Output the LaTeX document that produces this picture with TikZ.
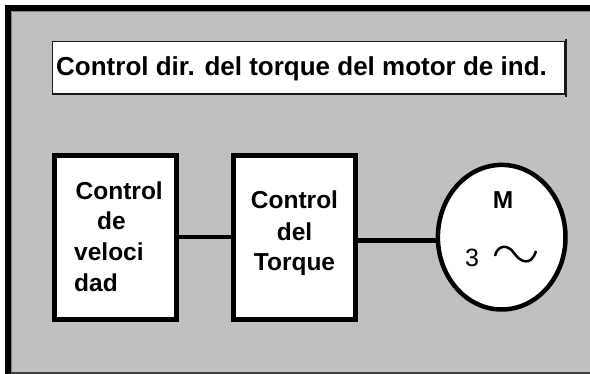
\documentclass[tikz,border=0pt]{standalone}
\usepackage{fontspec}
\setmainfont{Liberation Sans}
\usetikzlibrary{shapes.geometric}
\definecolor{winbg}{HTML}{C0C0C0}
\definecolor{edgegray}{HTML}{404040}
\definecolor{bevel}{HTML}{808080}
\definecolor{titleedge}{HTML}{1A1A1A}
\begin{document}
\begin{tikzpicture}[x=1pt,y=-1pt,
  blk/.style={draw=black,line width=5pt,fill=white,rectangle,inner sep=0pt,minimum width=122.6pt,minimum height=164pt},
  lbl/.style={font=\fontsize{24.5}{29}\selectfont\bfseries,inner sep=0pt,anchor=base west},
  clbl/.style={font=\fontsize{24.5}{29}\selectfont\bfseries,inner sep=0pt,anchor=base},
  wire/.style={line width=4.5pt}]
\useasboundingbox (0,0) rectangle (590,374);
\fill[white] (0,0) rectangle (590,374);
\fill[winbg] (5,5) rectangle (590,374);
\fill[black] (5,5) rectangle (590,11);
\fill[black] (5,5) rectangle (11,374);
\fill[bevel] (11,11) rectangle (590,12);
\fill[bevel] (11,11) rectangle (12,372);
\fill[edgegray] (11,372) rectangle (590,374);
% title
\node[draw=titleedge,line width=1.6pt,fill=white,inner sep=0pt,minimum width=512.7pt,minimum height=52.6pt] (title) at (308.65,68) {};
\draw[titleedge,line width=1.6pt] ([yshift=2pt]title.north east) -- ([yshift=-2pt]title.south east);
\node[anchor=base west,inner sep=0pt,font=\fontsize{26}{30}\selectfont\bfseries] (ttext) at (56,75.7) {Control dir. del torque del motor de ind.};
% blocks
\node[blk] (b1) at (115.5,237.2) {};
\node[blk] (b2) at (294.65,237.2) {};
\node[draw,ellipse,line width=4.5pt,fill=white,inner sep=0pt,minimum width=127.6pt,minimum height=144.6pt] (m) at (501.7,237.2) {};
% connectors
\draw[wire] (b1.east) -- (b2.west);
\draw[wire] ([yshift=-3.3pt]b2.east) -- ([yshift=-3.3pt]b2.east -| m.west);
% labels
\node[lbl] (v1) at (75.5,199.3) {Control};
\node[lbl] (v2) at (97,229.3) {de};
\node[lbl] (v3) at (74,260.7) {veloci};
\node[lbl] (v4) at (74,291.7) {dad};
\node[clbl] (t1) at (294.5,208.3) {Control};
\node[clbl] (t2) at (294.5,240.5) {del};
\node[clbl] (t3) at (294.5,271) {Torque};
\node[clbl] (mm) at (503,209) {M};
\node[font=\fontsize{25}{30}\selectfont,inner sep=0pt,anchor=base west] (m3) at (465,266.7) {3};
\draw[line width=2.5pt] (495,256) .. controls (497,246) and (507,243) .. (514,253) .. controls (520,262) and (531,267) .. (536,251);
\end{tikzpicture}
\end{document}
